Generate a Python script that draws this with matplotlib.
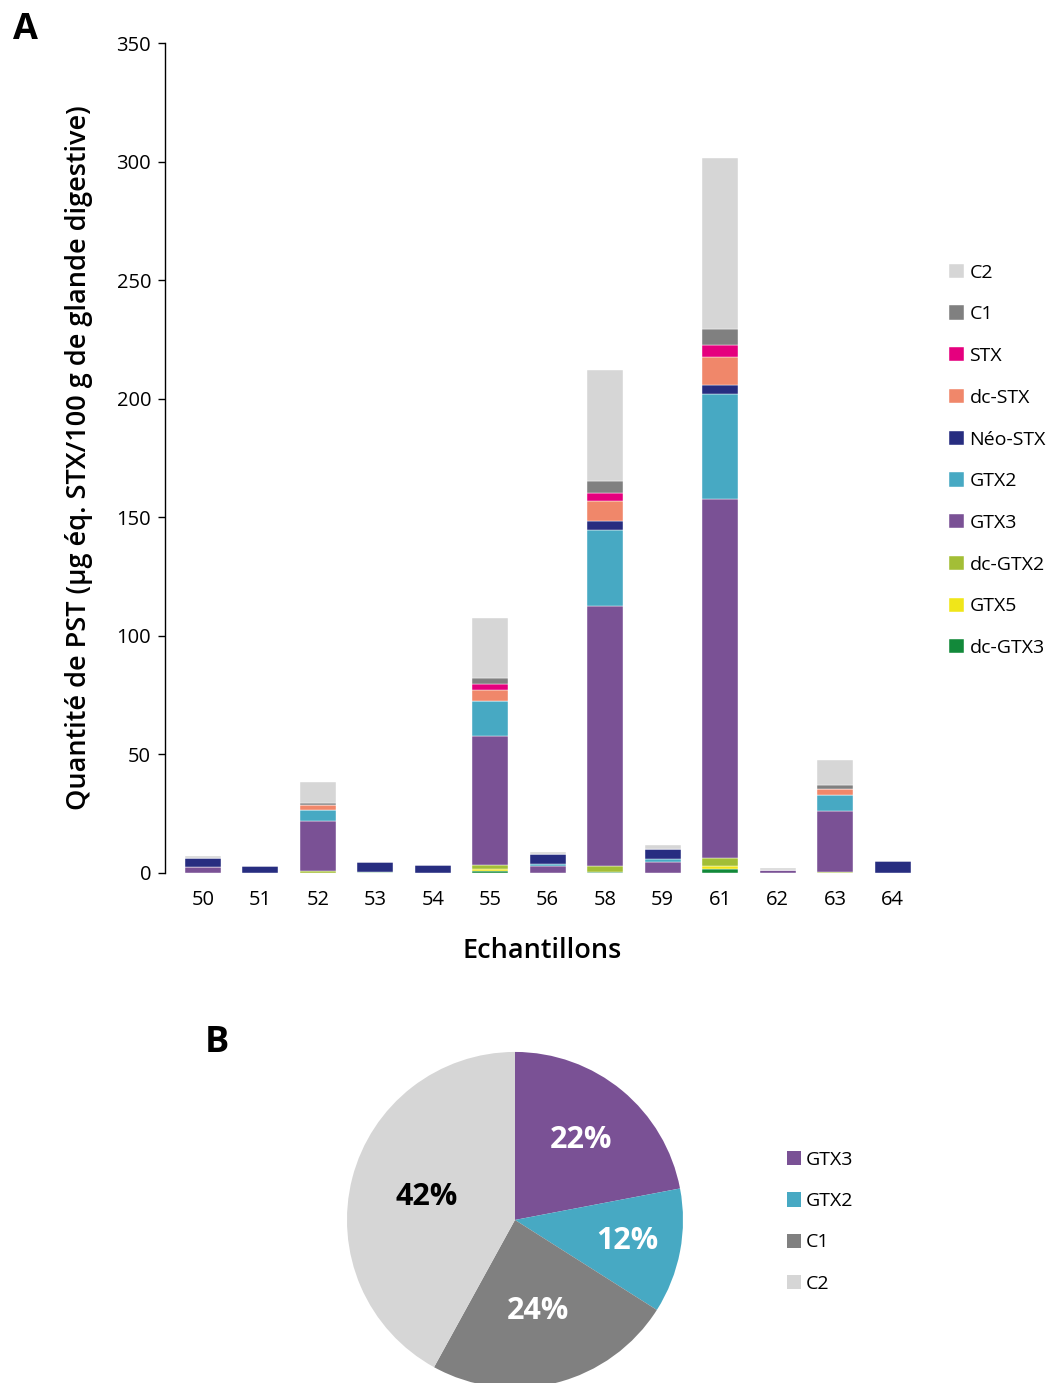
import matplotlib
matplotlib.use("Agg")
import matplotlib.pyplot as plt
import numpy as np

plt.rcParams['font.family'] = ['Open Sans', 'DejaVu Sans']

# Samples and toxin profiles (µg éq. STX / 100 g)
samples = ['50', '51', '52', '53', '54', '55', '56', '58', '59', '61', '62', '63', '64']
toxins = ['dc-GTX3', 'GTX5', 'dc-GTX2', 'GTX3', 'GTX2', 'Néo-STX', 'dc-STX', 'STX', 'C1', 'C2']
colors = ['#12893a', '#f0e619', '#a3be36', '#7a5195', '#47a9c3', '#272d80',
          '#f0876a', '#e5007e', '#808080', '#d6d6d6']

dc_gtx3 = [0, 0, 0, 0.2, 0, 1.0, 0, 0.6, 0, 1.6, 0, 0, 0]
gtx5    = [0, 0, 0, 0, 0, 0.8, 0, 0, 0, 1.4, 0, 0, 0]
dc_gtx2 = [0, 0, 0.7, 0, 0, 1.6, 0, 2.4, 0, 3.5, 0, 0.6, 0]
gtx3    = [2.5, 0, 21.1, 0, 0, 54.4, 3.1, 109.7, 4.6, 151.2, 1.4, 25.7, 0]
gtx2    = [0, 0, 4.6, 0, 0, 14.8, 0.7, 31.9, 1.4, 44.1, 0, 6.6, 0]
neo_stx = [3.6, 3.1, 0, 4.4, 3.5, 0, 4.1, 3.7, 4.0, 3.8, 0, 0, 4.9]
dc_stx  = [0, 0, 2.3, 0, 0, 4.6, 0, 8.4, 0, 12.1, 0, 2.7, 0]
stx     = [0, 0, 0, 0, 0, 2.5, 0, 3.4, 0, 4.9, 0, 0, 0]
c1      = [0, 0, 0.8, 0, 0, 2.7, 0, 5.2, 0, 6.7, 0, 1.3, 0]
c2      = [1.2, 0, 9.0, 0, 0, 25.3, 0.8, 46.8, 1.8, 72.4, 0.6, 10.8, 0]
series = [dc_gtx3, gtx5, dc_gtx2, gtx3, gtx2, neo_stx, dc_stx, stx, c1, c2]

# Pie: share of total
pie_labels = ['GTX3', 'GTX2', 'C1', 'C2']
pie_values = [22, 12, 24, 42]
pie_colors = ['#7a5195', '#47a9c3', '#808080', '#d6d6d6']
pie_text_colors = ['white', 'white', 'white', 'black']
pie_label_dist = [0.62, 0.68, 0.56, 0.54]

fig = plt.figure(figsize=(10.54, 13.83), dpi=100)

# ---- panel A
ax = fig.add_axes([0.1565, 0.3688, 0.716, 0.6001])
x = np.arange(len(samples))
bottom = np.zeros(len(samples))
handles = []
for name, vals, col in zip(toxins, series, colors):
    b = ax.bar(x, vals, 0.626, bottom=bottom, color=col, label=name,
               edgecolor='white', linewidth=0.3)
    bottom += np.array(vals)
    handles.append(b)

ax.set_ylim(0, 350)
ax.set_xlim(-0.66, 12.47)
ax.set_yticks(range(0, 351, 50))
ax.set_xticks(x)
ax.set_xticklabels(samples)
ax.tick_params(axis='y', labelsize=14.5, length=5, width=1, pad=5)
ax.tick_params(axis='x', labelsize=14.5, length=0, pad=12)
for s in ['top', 'right', 'bottom']:
    ax.spines[s].set_visible(False)
ax.spines['left'].set_linewidth(1)
ax.set_xlabel('Echantillons', fontsize=19.5, fontweight='semibold', labelpad=20)
ax.set_ylabel('Quantité de PST (µg éq. STX/100 g de glande digestive)',
              fontsize=19.5, fontweight='semibold', labelpad=17)

fig.legend(handles[::-1], toxins[::-1], loc='upper left',
           bbox_to_anchor=(0.893, 0.815), frameon=False, fontsize=14,
           handlelength=0.75, handleheight=0.75, handletextpad=0.3,
           labelspacing=1.22, borderaxespad=0)

fig.text(0.012, 0.978, 'A', fontsize=26, fontweight='bold', va='center')

# ---- panel B
pax = fig.add_axes([0.3292, -0.0036, 0.3188, 0.243])
wedges, texts = pax.pie(pie_values, colors=pie_colors, startangle=90,
                        counterclock=False, radius=1.0,
                        wedgeprops=dict(linewidth=0))
total = sum(pie_values)
for w, v, c, d in zip(wedges, pie_values, pie_text_colors, pie_label_dist):
    ang = np.deg2rad((w.theta1 + w.theta2) / 2)
    pax.text(d * np.cos(ang), d * np.sin(ang), '%d%%' % round(100 * v / total),
             color=c, fontsize=22, fontweight='bold', ha='center', va='center')
pax.set_xlim(-1, 1)
pax.set_ylim(-1, 1)
pax.set_aspect('equal')

fig.legend(wedges, pie_labels, loc='upper left', bbox_to_anchor=(0.739, 0.1735),
           frameon=False, fontsize=14, handlelength=0.75, handleheight=0.75,
           handletextpad=0.25, labelspacing=1.2, borderaxespad=0)

fig.text(0.194, 0.246, 'B', fontsize=26, fontweight='bold', va='center')

fig.savefig('out.png', dpi=100)
